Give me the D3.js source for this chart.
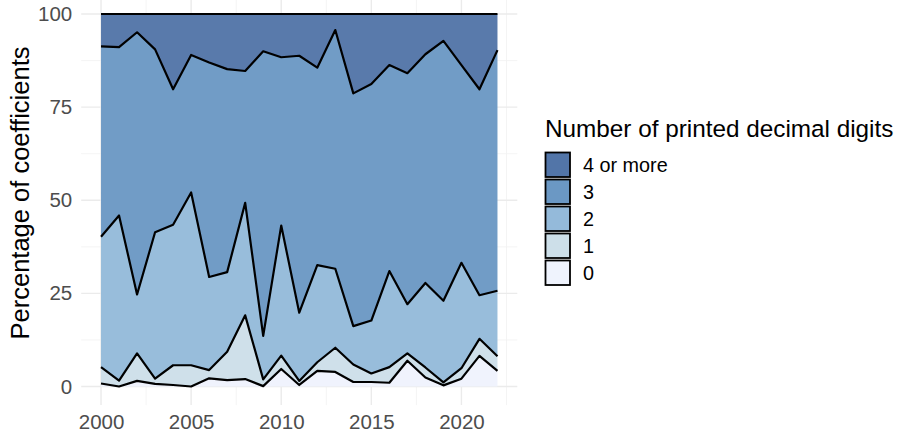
<!DOCTYPE html>
<html>
<head>
<meta charset="utf-8">
<script src="https://cdn.jsdelivr.net/npm/d3@7"></script>
<style>
  html, body { margin: 0; padding: 0; background: #fff; }
  svg { display: block; font-family: "Liberation Sans", Arial, Helvetica, sans-serif; }
</style>
</head>
<body>
<div id="app"></div>
<script>
// share of coefficients by number of printed decimal digits, per year (percent)
const years = d3.range(2000, 2023);
const digits0 = [0.8, 0, 1.5, 0.7, 0.4, 0, 2.2, 1.7, 2.0, 0.1, 4.7, 0.4, 4.2, 3.9, 1.2, 1.2, 1.0, 6.9, 2.4, 0.3, 2.1, 8.2, 4.2];
const digits1 = [4.4, 1.6, 7.4, 1.4, 5.3, 5.7, 2.2, 7.6, 17.1, 1.8, 3.6, 1.1, 2.3, 6.5, 4.7, 2.3, 4.2, 2.0, 2.7, 0.8, 2.8, 4.6, 3.9];
const digits2 = [35.0, 44.3, 15.8, 39.3, 37.7, 46.4, 25.0, 21.4, 30.2, 11.7, 34.9, 18.3, 26.1, 21.2, 10.3, 14.2, 25.8, 13.2, 22.7, 21.9, 28.3, 11.7, 17.6];
const digits3 = [51.1, 45.2, 70.4, 49.1, 36.4, 36.9, 57.6, 54.5, 35.4, 76.4, 45.2, 69.0, 53.0, 64.1, 62.5, 63.5, 55.3, 62.0, 61.4, 69.8, 53.1, 55.3, 64.6];
const digits4 = [8.7, 8.9, 4.9, 9.5, 20.2, 11.0, 13.0, 14.8, 15.3, 10.0, 11.6, 11.2, 14.4, 4.3, 21.3, 18.8, 13.7, 15.9, 10.8, 7.2, 13.7, 20.2, 9.7];

const groups = ['0', '1', '2', '3', '4 or more'];
const groupColors = ['#eff3fd', '#cddfe9', '#94bada', '#6b98c4', '#5275a8'];
const xTicks = [2000, 2005, 2010, 2015, 2020];
const yTicks = [0, 25, 50, 75, 100];

const series = [digits0, digits1, digits2, digits3, digits4];
const rows = years.map((yr, i) => {
  const r = {year: yr};
  groups.forEach((g, k) => { r[g] = series[k][i]; });
  return r;
});

const width = 906, height = 436;
const panel = {left: 81.2, right: 517.3, top: -4.6, bottom: 405.1};

const svg = d3.select('#app').append('svg')
  .attr('width', width)
  .attr('height', height);

const x = d3.scaleLinear()
  .domain([1998.9, 2023.1])
  .range([panel.left, panel.right]);
const y = d3.scaleLinear()
  .domain([-5, 105])
  .range([panel.bottom, panel.top]);

// grid
const grid = svg.append('g');
const xMinor = [2002.5, 2007.5, 2012.5, 2017.5, 2022.5];
const yMinor = [12.5, 37.5, 62.5, 87.5];
grid.selectAll('line.xminor').data(xMinor).enter().append('line')
  .attr('x1', d => x(d)).attr('x2', d => x(d))
  .attr('y1', panel.top).attr('y2', panel.bottom)
  .attr('stroke', '#f1f1f1').attr('stroke-width', 0.8);
grid.selectAll('line.yminor').data(yMinor).enter().append('line')
  .attr('y1', d => y(d)).attr('y2', d => y(d))
  .attr('x1', panel.left).attr('x2', panel.right)
  .attr('stroke', '#f1f1f1').attr('stroke-width', 0.8);
grid.selectAll('line.xmajor').data(xTicks).enter().append('line')
  .attr('x1', d => x(d)).attr('x2', d => x(d))
  .attr('y1', panel.top).attr('y2', panel.bottom)
  .attr('stroke', '#ebebeb').attr('stroke-width', 1.4);
grid.selectAll('line.ymajor').data(yTicks).enter().append('line')
  .attr('y1', d => y(d)).attr('y2', d => y(d))
  .attr('x1', panel.left).attr('x2', panel.right)
  .attr('stroke', '#ebebeb').attr('stroke-width', 1.4);

// stacked areas
const stacked = d3.stack().keys(groups)(rows);

const area = d3.area()
  .x(d => x(d.data.year))
  .y0(d => y(d[0]))
  .y1(d => y(d[1]));
const upper = d3.line()
  .x(d => x(d.data.year))
  .y(d => y(d[1]));

svg.append('g').selectAll('path')
  .data(stacked).enter()
  .append('path')
  .attr('d', area)
  .attr('fill', (d, i) => groupColors[i])
  .attr('fill-opacity', 0.96);

svg.append('g').selectAll('path')
  .data(stacked).enter()
  .append('path')
  .attr('d', upper)
  .attr('fill', 'none')
  .attr('stroke', '#000')
  .attr('stroke-width', 2.2)
  .attr('stroke-linejoin', 'round');

// axes (text only, theme_minimal style)
const xAxis = svg.append('g')
  .attr('transform', `translate(0,${panel.bottom})`)
  .call(d3.axisBottom(x).tickValues(xTicks).tickFormat(d3.format('d')).tickSize(0).tickPadding(9));
const yAxis = svg.append('g')
  .attr('transform', `translate(${panel.left},0)`)
  .call(d3.axisLeft(y).tickValues(yTicks).tickSize(0).tickPadding(9));
[xAxis, yAxis].forEach(a => {
  a.select('.domain').remove();
  a.selectAll('text')
    .attr('fill', '#4d4d4d')
    .style('font-size', '20.5px')
    .style('font-family', '"Liberation Sans", Arial, sans-serif');
});

svg.append('text')
  .attr('transform', 'translate(29,193) rotate(-90)')
  .attr('text-anchor', 'middle')
  .attr('fill', '#000')
  .style('font-size', '25.5px')
  .text('Percentage of coefficients');

// legend
const legend = svg.append('g').attr('transform', 'translate(545,0)');
legend.append('text')
  .attr('x', 0).attr('y', 137)
  .attr('fill', '#000')
  .style('font-size', '24.3px')
  .text('Number of printed decimal digits');

const keys = groups.slice().reverse();
const keyColors = groupColors.slice().reverse();
const item = legend.selectAll('g.item').data(keys).enter()
  .append('g')
  .attr('transform', (d, i) => `translate(0,${152 + i * 27})`);
item.append('rect')
  .attr('x', 0.5).attr('y', 0.5)
  .attr('width', 24.5).attr('height', 24.5)
  .attr('fill', (d, i) => keyColors[i])
  .attr('stroke', '#000')
  .attr('stroke-width', 1.8);
item.append('text')
  .attr('x', 38).attr('y', 13)
  .attr('dy', '0.35em')
  .attr('fill', '#000')
  .style('font-size', '19.8px')
  .text(d => d);
</script>
</body>
</html>
